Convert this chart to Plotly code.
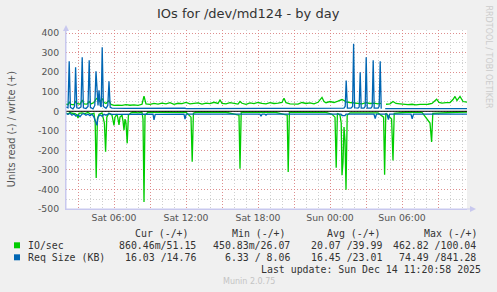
import pandas as pd
import plotly.graph_objects as go

# ---------------- data (minutes after Sat 2025-12-13 02:00) ----------------
START = "2025-12-13 02:00"
END_MIN = 2005

# IO/sec, write (+)
io_w_min = [0, 10, 16, 25, 40, 48, 55, 70, 81, 90, 105, 116, 125, 140, 150, 160, 170, 181, 190, 200,
            215, 225, 240, 260, 280, 300, 320, 340, 360, 380, 390, 400, 420, 440, 460, 480, 500, 520,
            540, 560, 580, 600, 620, 640, 660, 680, 700, 720, 740, 760, 770, 780, 800, 820, 840, 860,
            870, 880, 900, 920, 940, 960, 980, 1000, 1020, 1040, 1060, 1080, 1090, 1100, 1120, 1140,
            1160, 1180, 1200, 1220, 1240, 1260, 1280, 1290, 1300, 1320, 1340, 1360, 1380, 1390, 1400,
            1420, 1440, 1460, 1480, 1500, 1520, 1540, 1560, 1575, 1580, 1590, 1600, 1620, 1635, 1650,
            1670, 1690, 1710, 1730, 1750, 1770, 1790, 1810, 1830, 1853, 1865, 1880, 1900, 1920, 1935,
            1945, 1955, 1970, 1985, 2000, 2005]
io_w_val = [36, 34, 48, 35, 33, 52, 40, 36, 58, 38, 37, 50, 38, 45, 62, 70, 48, 65, 45, 40,
            55, 35, 30, 32, 30, 34, 31, 33, 30, 36, 77, 38, 35, 40, 37, 42, 38, 44,
            36, 41, 39, 45, 38, 40, 43, 37, 42, 39, 46, 40, 58, 41, 38, 44, 40, 37,
            50, 41, 36, 43, 39, 45, 40, 38, 44, 40, 42, 45, 67, 44, 38, 38,
            37, 45, 40, 43, 38, 46, 71, 50, 44, 50, 45, 52, 60, 55, 48,
            45, 42, 40, 38, 44, 40, 42, 38, 40, None, None, 36, 38, 50, 40,
            38, 36, 34, 36, 33, 35, 34, 36, 40, 62, 45, 42, 44, 45, 60,
            76, 55, 76, 50, 47, 47]

# IO/sec, read (-)
io_r_min = [0, 10, 20, 30, 45, 55, 60, 65, 80, 95, 110, 125, 140, 146, 151, 157, 165, 180, 192, 198,
            204, 215, 230, 235, 240, 245, 255, 260, 265, 270, 280, 285, 290, 295, 300, 306, 312, 325,
            340, 360, 380, 385, 390, 395, 410, 450, 500, 550, 600, 625, 631, 637, 650, 700, 750, 800,
            865, 870, 876, 950, 1000, 1050, 1106, 1111, 1117, 1200, 1250, 1300, 1330, 1345, 1351,
            1357, 1370, 1376, 1380, 1385, 1390, 1395, 1400, 1406, 1420, 1500, 1560, 1588, 1593, 1599,
            1628, 1635, 1641, 1700, 1780, 1820, 1828, 1834, 1900, 1950, 2005]
io_r_val = [-8, -15, -5, -10, -12, -18, -35, -10, -8, -12, -6, -15, -10, -60, -341, -40, -15, -8, -60, -207,
            -30, -10, -20, -40, -72, -30, -15, -40, -70, -30, -20, -50, -97, -40, -60, -164, -20, -8,
            -5, -8, -5, -40, -464, -20, -5, -6, -4, -6, -5, -30, -258, -10, -5, -4, -6, -5,
            -20, -294, -5, -6, -4, -6, -20, -310, -5, -5, -4, -6, -15, -30, -289,
            -10, -20, -60, -327, -260, -80, -150, -402, -20, -8, -6, -8, -30, -325, -10,
            -40, -252, -10, -5, -6, -60, -157, -10, -6, -5, -4]

# Req Size (KB), write (+)
rs_w_min = [0, 10, 16, 22, 35, 43, 48, 54, 65, 75, 81, 87, 100, 110, 116, 122, 135, 144, 150, 156,
            160, 165, 171, 176, 181, 187, 200, 209, 215, 221, 230, 300, 400, 500, 595, 600, 700, 800,
            870, 875, 900, 1000, 1100, 1111, 1120, 1200, 1300, 1380, 1390, 1396, 1401, 1407, 1425,
            1433, 1438, 1443, 1460, 1466, 1471, 1476, 1490, 1496, 1501, 1506, 1525, 1531, 1536, 1541,
            1560, 1566, 1571, 1576, 1579, 1580, 1596, 1700, 1800, 1900, 2005]
rs_w_val = [22, 18, 256, 20, 12, 25, 225, 18, 15, 22, 277, 18, 14, 25, 261, 20, 12, 30, 205, 40,
            30, 107, 30, 22, 328, 25, 15, 30, 153, 20, 16, 15, 16, 15, 16, 14, 15, 16,
            14, 16, 15, 15, 15, 13, 15, 15, 14, 14, 16, 25, 158, 16, 16,
            25, 345, 18, 16, 22, 200, 16, 16, 25, 277, 16, 16, 25, 261, 16,
            16, 25, 256, 16, 16, None, 14, 14, 14, 15, 14]

# Req Size (KB), read (-)
rs_r_min = [0, 10, 20, 30, 40, 50, 60, 70, 80, 90, 100, 110, 120, 130, 140, 150, 155, 160, 170, 180,
            190, 200, 215, 230, 300, 435, 440, 446, 590, 595, 601, 700, 800, 970, 975, 980, 995, 1000,
            1005, 1100, 1200, 1300, 1375, 1380, 1395, 1400, 1540, 1546, 1552, 1605, 1612, 1618, 1725,
            1731, 1737, 1850, 2005]
rs_r_val = [-12, -15, -10, -20, -14, -25, -18, -28, -15, -12, -20, -15, -22, -15, -30, -60, -72, -30, -18, -25,
            -15, -20, -12, -16, -15, -15, -44, -16, -15, -40, -15, -16, -15, -15, -25, -15, -15, -20,
            -15, -15, -16, -15, -15, -22, -22, -15, -15, -37, -15, -15, -42, -15, -15,
            -39, -15, -15, -15]

y_ticks = [400, 300, 200, 100, 0, -100, -200, -300, -400, -500]
x_tick_hours = [3, 6, 9, 12, 15, 18, 21, 24, 27, 30, 33]  # hours after Sat 00:00

title = "IOs for /dev/md124 - by day"
y_title = "Units read (-) / write (+)"
series_names = ["IO/sec", "Req Size (KB)"]
cur_vals = ["860.46m/51.15", "16.03 /14.76"]
min_vals = ["450.83m/26.07", "6.33 / 8.06"]
avg_vals = ["20.07 /39.99", "16.45 /23.01"]
max_vals = ["462.82 /100.04", "74.49 /841.28"]
last_update = "Last update: Sun Dec 14 11:20:58 2025"
version = "Munin 2.0.75"

GREEN = "#00CC00"
BLUE = "#0066B3"

# ---------------- figure ----------------
t0 = pd.Timestamp(START)
def to_t(mins):
    return [t0 + pd.Timedelta(minutes=m) for m in mins]

fig = go.Figure()
for mins, vals, col in [(io_r_min, io_r_val, GREEN), (io_w_min, io_w_val, GREEN),
                        (rs_r_min, rs_r_val, BLUE), (rs_w_min, rs_w_val, BLUE)]:
    fig.add_trace(go.Scatter(x=to_t(mins), y=vals, mode="lines",
                             line=dict(color=col, width=1.3), connectgaps=False,
                             hoverinfo="skip", showlegend=False))

L, R, T, B = 66, 30, 30, 83
W, H = 497 - L - R, 292 - T - B
def px(x):
    return (x - L) / W
def py(y):
    return (292 - B - y) / H

sat0 = pd.Timestamp("2025-12-13 00:00")
tickvals = [sat0 + pd.Timedelta(hours=h) for h in x_tick_hours]
ticktext = [v.strftime("%a %H:%M") if h % 6 == 0 else "" for h, v in zip(x_tick_hours, tickvals)]

MAJ = "rgba(225,120,120,0.75)"
MIN = "#cfcfcf"
AX = "#c8c8ee"
TXT = "#555555"

fig.update_xaxes(type="date", range=[t0, t0 + pd.Timedelta(minutes=END_MIN)],
                 tickmode="array", tickvals=tickvals, ticktext=ticktext,
                 showgrid=True, gridcolor=MAJ, griddash="1px,2px", gridwidth=1,
                 minor=dict(tickmode="linear", tick0="2025-12-13 00:00", dtick=3600000,
                            showgrid=True, gridcolor=MIN, griddash="1px,2px", gridwidth=1),
                 showline=True, linecolor=AX, linewidth=1, zeroline=False,
                 tickfont=dict(family="DejaVu Sans", size=9.3, color=TXT), ticks="")
fig.update_yaxes(range=[-500, 416], tickmode="array", tickvals=y_ticks,
                 ticktext=[str(v) for v in y_ticks],
                 showgrid=True, gridcolor=MAJ, griddash="1px,2px", gridwidth=1,
                 minor=dict(tickmode="linear", tick0=0, dtick=50,
                            showgrid=True, gridcolor=MIN, griddash="1px,2px", gridwidth=1),
                 showline=True, linecolor=AX, linewidth=1, zeroline=False,
                 tickfont=dict(family="DejaVu Sans", size=9.3, color=TXT), ticks="",
                 ticklabelstandoff=4)

ann = []
def add(text, x, y, xanchor="left", size=9.9, family="DejaVu Sans Mono", color="#333333", angle=0):
    ann.append(dict(text=text, x=px(x), y=py(y), xref="paper", yref="paper",
                    xanchor=xanchor, yanchor="middle", showarrow=False, borderpad=0,
                    textangle=angle, font=dict(family=family, size=size, color=color)))

add(title, 248.5, 13.5, "center", 13, "DejaVu Sans", "#333333")
add(y_title, 11, 129.2, "center", 9.7, "DejaVu Sans", TXT, -90)
add("RRDTOOL / TOBI OETIKER", 488.5, 57, "center", 8, "DejaVu Sans", "#cccccc", 90)

for hdr, x in zip(["Cur (-/+)", "Min (-/+)", "Avg (-/+)", "Max (-/+)"], [134.3, 230.7, 326, 422.7]):
    add(hdr, x, 233)
rows_y = [245, 257.5]
for i, yy in enumerate(rows_y):
    add(series_names[i], 26.5, yy)
    add(cur_vals[i], 196.7, yy, "right")
    add(min_vals[i], 290.7, yy, "right")
    add(avg_vals[i], 383.3, yy, "right")
    add(max_vals[i], 476.7, yy, "right")
add(last_update, 482.3, 269, "right")
add(version, 248.5, 281.5, "center", 8, "DejaVu Sans", "#c4c4c4")

fig.update_layout(width=497, height=292, margin=dict(l=L, r=R, t=T, b=B),
                  paper_bgcolor="#F0F0F0", plot_bgcolor="white",
                  showlegend=False, annotations=ann)

# zero rule
fig.add_hline(y=0, line=dict(color="black", width=1))
# legend squares
for col, (ya, yb) in zip([GREEN, BLUE], [(242.3, 248.3), (254.3, 260.3)]):
    fig.add_shape(type="rect", xref="paper", yref="paper", x0=px(14), x1=px(20),
                  y0=py(yb), y1=py(ya), fillcolor=col, line=dict(width=0))
# axis lines with arrows
fig.add_shape(type="line", xref="paper", yref="paper", x0=px(66), x1=px(472),
              y0=py(209), y1=py(209), line=dict(color=AX, width=1))
fig.add_shape(type="line", xref="paper", yref="paper", x0=px(66), x1=px(66),
              y0=py(209), y1=py(28), line=dict(color=AX, width=1))
fig.add_shape(type="path", xref="paper", yref="paper",
              path=f"M {px(63)} {py(31)} L {px(69)} {py(31)} L {px(66)} {py(25)} Z",
              fillcolor=AX, line=dict(width=0))
fig.add_shape(type="path", xref="paper", yref="paper",
              path=f"M {px(470)} {py(206)} L {px(470)} {py(212)} L {px(476)} {py(209)} Z",
              fillcolor=AX, line=dict(width=0))

fig.write_html("out.html")
